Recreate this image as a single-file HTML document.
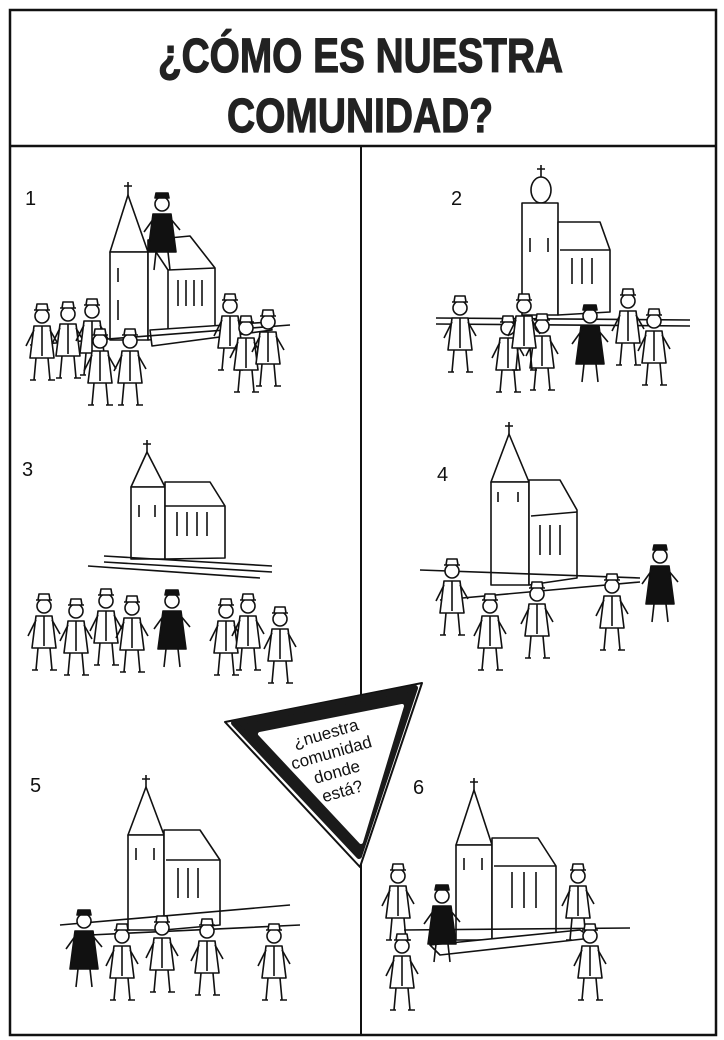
<!DOCTYPE html>
<html><head><meta charset="utf-8"><style>
html,body{margin:0;padding:0;background:#fff;width:724px;height:1040px;overflow:hidden}
svg{display:block}
</style></head><body>
<svg width="724" height="1040" viewBox="0 0 724 1040" xmlns="http://www.w3.org/2000/svg">
<defs>
<g id="p" fill="#fff" stroke="#111" stroke-width="1.6" stroke-linejoin="round">
  <path d="M4 26 L20 26 L24 58 L0 58 Z"/>
  <path d="M6 58 L4 80 M18 58 L20 80 M0 80 L6 80 M18 80 L25 80"/>
  <circle cx="12" cy="16" r="7"/>
  <path d="M4 10 L20 10 M6 10 L7 4 L17 4 L18 10"/>
  <path d="M4 30 L-4 46 M20 30 L28 44"/>
  <path d="M12 26 L12 56"/>
</g>
<g id="pb" fill="#111" stroke="#111" stroke-width="1.6" stroke-linejoin="round">
  <path d="M3 26 L21 26 L26 64 L-2 64 Z"/>
  <path d="M6 64 L4 82 M18 64 L20 82"/>
  <circle cx="12" cy="16" r="7" fill="#fff"/>
  <path d="M5 10 L19 10 L18 5 L6 5 Z"/>
  <path d="M4 30 L-6 44 M20 30 L30 42"/>
</g>
</defs>

<rect x="10" y="10" width="706" height="1025" fill="none" stroke="#111" stroke-width="2.5"/>
<line x1="10" y1="146" x2="716" y2="146" stroke="#111" stroke-width="2.5"/>
<line x1="361" y1="146" x2="361" y2="1035" stroke="#111" stroke-width="2"/>

<text x="158" y="72" textLength="405" lengthAdjust="spacingAndGlyphs" font-family="Liberation Sans, sans-serif" font-weight="bold" font-size="48" fill="#222" stroke="#222" stroke-width="1.2">¿CÓMO ES NUESTRA</text>
<text x="227" y="132" textLength="266" lengthAdjust="spacingAndGlyphs" font-family="Liberation Sans, sans-serif" font-weight="bold" font-size="48" fill="#222" stroke="#222" stroke-width="1.2">COMUNIDAD?</text>

<g font-family="Liberation Sans, sans-serif" font-size="20" fill="#111">
<text x="25" y="205">1</text>
<text x="451" y="205">2</text>
<text x="22" y="476">3</text>
<text x="437" y="481">4</text>
<text x="30" y="792">5</text>
<text x="413" y="794">6</text>
</g>

<g fill="#fff" stroke="#111" stroke-width="1.6" stroke-linejoin="round">
<path d="M128 182 L128 195 M124 186 L132 186"/>
<path d="M128 195 L110 252 L148 252 Z"/>
<rect x="110" y="252" width="38" height="88"/>
<path d="M148 240 L190 236 L215 268 L215 335 L148 340 Z"/>
<path d="M148 240 L168 270 L215 268 M168 270 L168 338"/>
<path d="M178 280 v26 M186 280 v26 M194 280 v26 M202 280 v26"/>
<path d="M118 268 v14 M118 300 v20"/>
<path d="M150 330 L270 322 L272 330 L152 346 Z"/>
<path d="M30 345 L290 325"/>
<use href="#pb" x="150" y="188"/>
<use href="#p" x="30" y="300"/><use href="#p" x="56" y="298"/><use href="#p" x="80" y="295"/>
<use href="#p" x="88" y="325"/><use href="#p" x="118" y="325"/>
<use href="#p" x="218" y="290"/><use href="#p" x="234" y="312"/><use href="#p" x="256" y="306"/>

<path d="M541 165 v12 M537 169 h8"/>
<ellipse cx="541" cy="190" rx="10" ry="13"/>
<rect x="522" y="203" width="36" height="112"/>
<path d="M558 222 L600 222 L610 250 L610 312 L558 315 Z"/>
<path d="M560 250 L610 250"/>
<path d="M572 258 v26 M582 258 v26 M592 258 v26 M530 238 v14 M548 238 v14"/>
<path d="M436 318 L690 320 M436 324 L690 326"/>
<use href="#p" x="448" y="292"/><use href="#p" x="496" y="312"/><use href="#p" x="530" y="310"/>
<use href="#pb" x="578" y="300"/><use href="#p" x="616" y="285"/><use href="#p" x="642" y="305"/><use href="#p" x="512" y="290"/>

<path d="M147 440 v12 M143 444 h8"/>
<path d="M147 452 L131 487 L165 487 Z"/>
<rect x="131" y="487" width="34" height="72"/>
<path d="M165 482 L210 482 L225 506 L225 558 L165 559 Z"/>
<path d="M165 506 L225 506"/>
<path d="M177 512 v24 M187 512 v24 M197 512 v24 M207 512 v24 M139 505 v12 M155 505 v12"/>
<path d="M104 556 L272 566 M104 562 L272 572 M88 566 L260 578"/>
<use href="#p" x="32" y="590"/><use href="#p" x="64" y="595"/><use href="#p" x="94" y="585"/><use href="#p" x="120" y="592"/>
<use href="#pb" x="160" y="585"/><use href="#p" x="214" y="595"/><use href="#p" x="236" y="590"/><use href="#p" x="268" y="603"/>

<path d="M509 422 v12 M505 426 h8"/>
<path d="M509 434 L491 482 L529 482 Z"/>
<rect x="491" y="482" width="38" height="103"/>
<path d="M529 480 L560 480 L577 510 L577 578 L529 585 Z"/>
<path d="M531 516 L577 512"/>
<path d="M540 525 v30 M550 525 v30 M560 525 v30 M498 492 v10 M518 492 v10"/>
<path d="M420 570 L640 578 M440 600 L640 582"/>
<use href="#p" x="440" y="555"/><use href="#p" x="478" y="590"/><use href="#p" x="525" y="578"/>
<use href="#p" x="600" y="570"/><use href="#pb" x="648" y="540"/>

<path d="M146 775 v12 M142 779 h8"/>
<path d="M146 787 L128 835 L164 835 Z"/>
<rect x="128" y="835" width="36" height="95"/>
<path d="M164 830 L200 830 L220 860 L220 925 L164 930 Z"/>
<path d="M166 860 L220 860"/>
<path d="M178 868 v30 M188 868 v30 M198 868 v30 M136 848 v12 M154 848 v12"/>
<path d="M60 925 L290 905 M90 935 L300 925"/>
<use href="#pb" x="72" y="905"/><use href="#p" x="110" y="920"/><use href="#p" x="150" y="912"/>
<use href="#p" x="195" y="915"/><use href="#p" x="262" y="920"/>

<path d="M474 778 v12 M470 782 h8"/>
<path d="M474 790 L456 845 L492 845 Z"/>
<rect x="456" y="845" width="36" height="95"/>
<path d="M492 838 L538 838 L556 866 L556 935 L492 940 Z"/>
<path d="M494 866 L556 866"/>
<path d="M512 872 v36 M524 872 v36 M536 872 v36 M464 858 v12 M482 858 v12"/>
<path d="M430 945 L580 930 L592 938 L440 955 Z"/>
<path d="M404 930 L630 928"/>
<use href="#p" x="386" y="860"/><use href="#pb" x="430" y="880"/><use href="#p" x="390" y="930"/>
<use href="#p" x="566" y="860"/><use href="#p" x="578" y="920"/>
</g>

<path d="M225 722 L422 683 L360 867 Z" fill="#fff" stroke="#111" stroke-width="2" stroke-linejoin="round"/>
<path d="M234 723 L415 688 L359 856 Z" fill="#1a1a1a" stroke="#1a1a1a" stroke-width="6" stroke-linejoin="round"/>
<path d="M260 734 L402 706 L361 842 Z" fill="#fff" stroke="#fff" stroke-width="4" stroke-linejoin="round"/>
<g font-family="Liberation Sans, sans-serif" font-size="17" fill="#111" text-anchor="middle" transform="rotate(-16 334 762)">
<text x="334" y="738">¿nuestra</text>
<text x="334" y="758">comunidad</text>
<text x="334" y="778">donde</text>
<text x="334" y="798">está?</text>
</g>
</svg>
</body></html>
